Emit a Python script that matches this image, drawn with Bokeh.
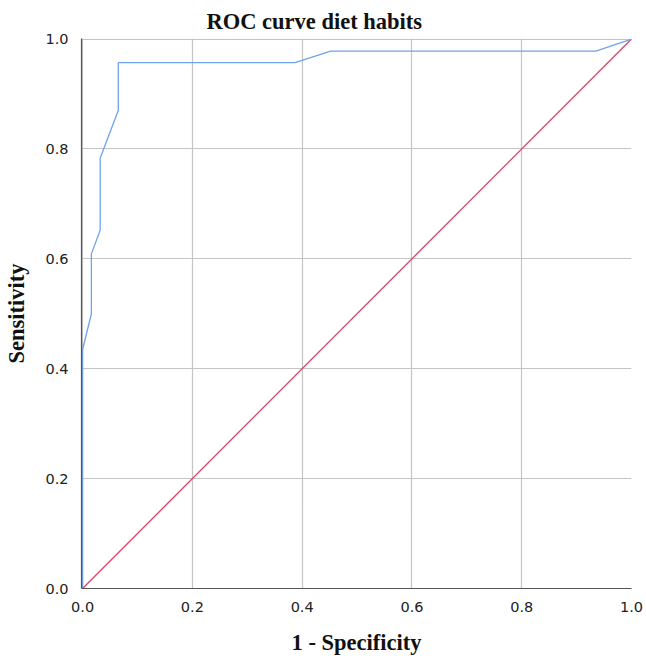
from bokeh.plotting import figure
from bokeh.models import Range1d, FixedTicker
from bokeh.embed import file_html
from bokeh.resources import INLINE

# ROC curve points (1 - specificity, sensitivity)
fpr = [0.0, 0.0, 0.016, 0.016, 0.032, 0.032, 0.065, 0.065, 0.387, 0.452, 0.935, 1.0]
tpr = [0.0, 0.435, 0.500, 0.609, 0.652, 0.783, 0.870, 0.957, 0.957, 0.978, 0.978, 1.0]

# reference (chance) line
ref_x = [0.0, 1.0]
ref_y = [0.0, 1.0]

ticks = [0.0, 0.2, 0.4, 0.6, 0.8, 1.0]
tick_labels = {0.0: "0.0", 0.2: "0.2", 0.4: "0.4", 0.6: "0.6", 0.8: "0.8", 1.0: "1.0"}

p = figure(width=646, height=658, output_backend="svg", toolbar_location=None,
           x_range=Range1d(-0.002, 1), y_range=Range1d(0, 1.001),
           min_border_left=81, min_border_right=15, min_border_top=38, min_border_bottom=70)

p.title.text = "ROC curve diet habits"
p.title.text_font = "Liberation Serif"
p.title.text_font_style = "bold"
p.title.text_font_size = "22.5px"
p.title.text_color = "#111111"
p.title.align = "left"
p.title.offset = 125
p.title.standoff = 10

p.outline_line_color = None
p.background_fill_color = "white"
p.border_fill_color = "white"

for ax in (p.xaxis[0], p.yaxis[0]):
    ax.ticker = FixedTicker(ticks=ticks)
    ax.major_label_overrides = tick_labels
    ax.major_tick_line_color = None
    ax.minor_tick_line_color = None
    ax.axis_line_color = "#555555"
    ax.axis_line_width = 1.2
    ax.major_label_text_font = "DejaVu Sans"
    ax.major_label_text_font_size = "14.5px"
    ax.major_label_text_color = "#222222"
    ax.major_label_standoff = 7
    ax.axis_label_text_font = "Liberation Serif"
    ax.axis_label_text_font_style = "bold"
    ax.axis_label_text_font_size = "22.5px"
    ax.axis_label_text_color = "#111111"

p.xaxis.axis_label = "1 - Specificity"
p.yaxis.axis_label = "Sensitivity"
p.xaxis.axis_label_standoff = 15
p.yaxis.axis_label_standoff = 13

p.xgrid.ticker = FixedTicker(ticks=ticks)
p.ygrid.ticker = FixedTicker(ticks=ticks)
p.xgrid.grid_line_color = "#c4c4c4"
p.ygrid.grid_line_color = "#c4c4c4"
p.xgrid.grid_line_width = 1.2
p.ygrid.grid_line_width = 1.2

p.line(ref_x, ref_y, line_color="#e0406a", line_width=1.3)
p.line(fpr, tpr, line_color="#6fa3ea", line_width=1.3)

open("out.html", "w").write(file_html(p, INLINE))
